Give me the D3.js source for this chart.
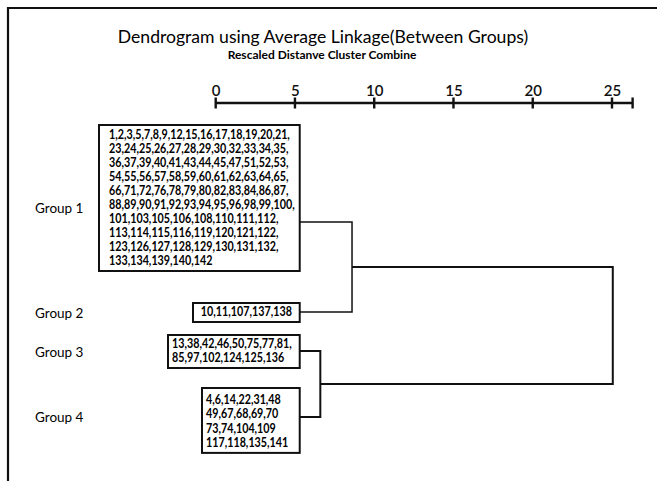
<!DOCTYPE html>
<html lang="en">
<head>
<meta charset="utf-8">
<script src="https://d3js.org/d3.v7.min.js"></script>
<style type="text/css">
body {
	margin: 0;
	background-color: #ffffff;
}
.title { font-family: Lato, sans-serif; font-size: 17.6px; }
.subtitle { font-family: Lato, sans-serif; font-size: 12px; font-weight: 700; }
.glabel { font-family: Lato, sans-serif; font-size: 13.5px; }
.members { font-family: Lato, sans-serif; font-size: 12.5px; font-weight: 700; }
.axis text { font-family: Lato, sans-serif; font-size: 15px; font-weight: 600; fill: #111; }
.axis path, .axis line { stroke: none; }
</style>
</head>
<body>
<script type="text/javascript">

// ---- data ----
var groups = ["Group 1", "Group 2", "Group 3", "Group 4"];

var members = [
	["1,2,3,5,7,8,9,12,15,16,17,18,19,20,21,",
	 "23,24,25,26,27,28,29,30,32,33,34,35,",
	 "36,37,39,40,41,43,44,45,47,51,52,53,",
	 "54,55,56,57,58,59,60,61,62,63,64,65,",
	 "66,71,72,76,78,79,80,82,83,84,86,87,",
	 "88,89,90,91,92,93,94,95,96,98,99,100,",
	 "101,103,105,106,108,110,111,112,",
	 "113,114,115,116,119,120,121,122,",
	 "123,126,127,128,129,130,131,132,",
	 "133,134,139,140,142"],
	["10,11,107,137,138"],
	["13,38,42,46,50,75,77,81,",
	 "85,97,102,124,125,136"],
	["4,6,14,22,31,48",
	 "49,67,68,69,70",
	 "73,74,104,109",
	 "117,118,135,141"]
];

// rescaled distance where each leaf box ends, and the merges
var leafDist = 5.3;
var merges = [
	{ left: [0], right: [1], dist: 8.6 },
	{ left: [2], right: [3], dist: 6.6 },
	{ left: [0, 1], right: [2, 3], dist: 25.05 }
];

var tickValues = [0, 5, 10, 15, 20, 25];
var axisMax = 26.3;

// ---- layout ----
var width = 657, height = 481;
var leafY = [222, 312, 351, 417];     // where each group's link leaves its box
var labelY = [208, 313, 352, 417];    // group label centre
var boxTop = [125, 303, 335, 388];
var boxLeft = [99, 193, 168, 202];
var lineH = [14, 13, 14, 14.3];
var padTop = [14, 13, 13, 16];
var squeeze = 0.86;                   // the scan's font is narrower than Lato

var svg = d3.select("body")
	.append("svg")
	.attr("width", width)
	.attr("height", height);

// frame (only top and left survived the scan)
svg.append("path")
	.attr("d", "M8," + height + "V8H" + width)
	.style("fill", "none")
	.style("stroke", "#111")
	.style("stroke-width", 2.2);

svg.append("text")
	.attr("class", "title")
	.attr("x", 323)
	.attr("y", 43)
	.attr("text-anchor", "middle")
	.text("Dendrogram using Average Linkage(Between Groups)");

svg.append("text")
	.attr("class", "subtitle")
	.attr("x", 322)
	.attr("y", 59)
	.attr("text-anchor", "middle")
	.text("Rescaled Distanve Cluster Combine");

// x scale
var x = d3.scaleLinear()
	.domain([0, 25])
	.range([215.7, 612]);

var axisY = 103;

var xAxis = d3.axisTop(x)
	.tickValues(tickValues)
	.tickSizeInner(0)
	.tickSizeOuter(0)
	.tickPadding(7);

svg.append("g")
	.attr("class", "axis")
	.attr("transform", "translate(0," + axisY + ")")
	.call(xAxis);

svg.append("line")
	.attr("x1", x(0)).attr("x2", x(axisMax))
	.attr("y1", axisY).attr("y2", axisY)
	.style("stroke", "#111")
	.style("stroke-width", 2.4);

svg.selectAll(".tk")
	.data(tickValues.concat([axisMax]))
	.enter()
	.append("line")
	.attr("class", "tk")
	.attr("x1", function(d) { return x(d); })
	.attr("x2", function(d) { return x(d); })
	.attr("y1", axisY - 5.5)
	.attr("y2", axisY + 5.5)
	.style("stroke", "#111")
	.style("stroke-width", 2.4);

// group labels
svg.selectAll(".glabel")
	.data(groups)
	.enter()
	.append("text")
	.attr("class", "glabel")
	.attr("x", 35)
	.attr("y", function(d, i) { return labelY[i] + 4.5; })
	.text(function(d) { return d; });

// member boxes
var boxes = svg.selectAll(".box")
	.data(members)
	.enter()
	.append("g")
	.attr("class", "box");

boxes.append("rect")
	.attr("x", function(d, i) { return boxLeft[i]; })
	.attr("y", function(d, i) { return boxTop[i]; })
	.attr("width", function(d, i) { return x(leafDist) - boxLeft[i]; })
	.attr("height", function(d, i) { return padTop[i] + (d.length - 1) * lineH[i] + 6; })
	.style("fill", "none")
	.style("stroke", "#111")
	.style("stroke-width", 2);

boxes.each(function(d, i) {
	var g = d3.select(this);
	var textX = (i === 1) ? (boxLeft[i] + x(leafDist)) / 2 : boxLeft[i] + (i === 0 ? 10 : 4);
	g.selectAll("text")
		.data(d)
		.enter()
		.append("text")
		.attr("class", "members")
		.attr("text-anchor", i === 1 ? "middle" : "start")
		.attr("transform", function(t, j) {
			return "translate(" + textX + "," + (boxTop[i] + padTop[i] + j * lineH[i]) + ") scale(" + squeeze + ",1)";
		})
		.text(function(t) { return t; });
});

// dendrogram links
function mergeY(m) {
	var a = m.left.length === 1 ? leafY[m.left[0]] : mergeY(merges[0]);
	var b = m.right.length === 1 ? leafY[m.right[0]] : mergeY(merges[1]);
	return (a + b) / 2;
}
function nodeX(list) {
	if (list.length === 1) return x(leafDist);
	var m = merges.filter(function(mm) {
		return mm.left.concat(mm.right).join() === list.join();
	})[0];
	return x(m.dist);
}

svg.selectAll(".link")
	.data(merges)
	.enter()
	.append("path")
	.attr("class", "link")
	.attr("d", function(m) {
		var ya = m.left.length === 1 ? leafY[m.left[0]] : mergeY(merges[0]);
		var yb = m.right.length === 1 ? leafY[m.right[0]] : mergeY(merges[1]);
		var xa = nodeX(m.left), xb = nodeX(m.right), xm = x(m.dist);
		return "M" + xa + "," + ya + "H" + xm + "V" + yb + "H" + xb;
	})
	.style("fill", "none")
	.style("stroke", "#111")
	.style("stroke-width", function(m, i) { return i === 0 ? 1.5 : 2; });

</script>
</body>
</html>
